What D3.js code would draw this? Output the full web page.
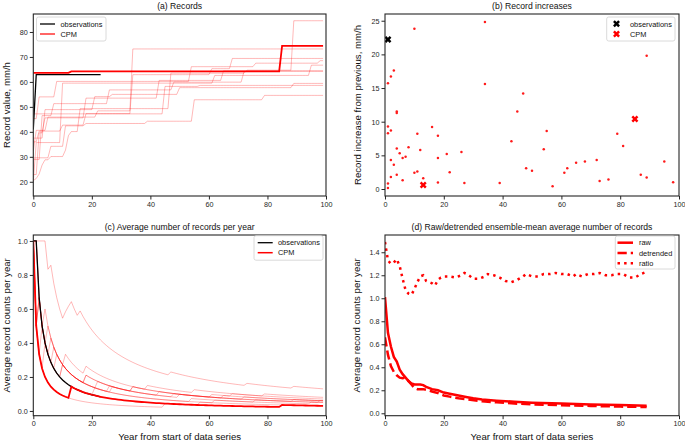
<!DOCTYPE html>
<html><head><meta charset="utf-8">
<script src="https://cdn.jsdelivr.net/npm/d3@7"></script>
<style>
body{margin:0;background:#fff;}
text{font-family:"Liberation Sans",Arial,Helvetica,sans-serif;}
</style></head>
<body><svg id="c" width="685" height="443"></svg>
<script>
// ---------- DATA ----------
// (a) CPM ensemble members: years in which a new record was set, and the record value (mm/h)
const memberRecordYears = [
  [0,1,2,3,4,6,11,12,13,16,47,73,89],
  [0,1,5,22,34],
  [0,2,10,18,34,61,68],
  [0,2,8,54,76,98],
  [0,1,10,62,95],
  [0,2,4,18,43,65],
  [0,3,7,26,48,72],
  [0,4,21,27,50,89],
  [0,45,57],
  [0,1,6,11,18,39,55,79]
];
const memberRecordValues = [
  [20.5,21.3,23.1,26.7,28.8,30.1,32.7,38.5,40.1,49.3,63.5,64.7,84.5],
  [32.3,40.6,45.9,48.4,73.2],
  [36.0,40.3,42.7,47.3,62.9,65.3,69.4],
  [45.3,54.0,60.2,66.1,67.5,68.5],
  [20.0,35.7,59.5,62.6,66.7],
  [22.9,39.6,45.6,53.5,60.6,64.5],
  [28.9,46.5,51.3,56.8,59.9,64.2],
  [37.5,48.9,54.1,55.0,57.7,59.4],
  [47.2,58.2,58.6],
  [29.5,29.6,34.2,42.4,43.35,44.25,52.85,54.6]
];
const memberLastYear = 99;
const cpmRecordYears = [0,13,85];
const cpmRecordValues = [63.6,64.2,74.4];
const obsRecordYears = [0,1];
const obsRecordValues = [41.0,62.9];
const obsLastYear = 23;

// (b) record increases
const incYears = [1,2,3,1,1,2,1,1,2,2,3,4,4,4,4,5,6,6,7,8,10,10,11,11,12,13,16,18,18,18,21,22,26,27,34,34,39,43,45,47,48,50,54,55,57,61,62,65,68,72,73,76,79,81,87,89,89,95,98];
const incValues = [15.7,16.7,17.6,9.3,8.3,8.7,0.8,0.15,4.3,1.8,3.6,11.3,11.5,6.0,2.1,5.3,4.6,1.3,4.8,6.2,23.8,2.4,8.2,2.6,5.8,1.6,9.2,7.9,4.6,0.95,5.2,2.5,5.5,0.9,24.8,15.6,0.9,7.1,11.5,14.2,3.1,2.7,5.9,8.6,0.4,2.4,3.1,3.9,4.1,4.3,1.2,1.4,8.2,6.4,2.1,19.8,1.7,4.1,1.0];
const cpmIncYears = [13,85];
const cpmIncValues = [0.6,10.4];
const obsIncYears = [1];
const obsIncValues = [22.2];

// (d) ensemble-mean average number of records
const rawYears = [0,1,2,3,4,5,6,7,8,9,10,12,13,14,16,18,20,22,25,28,30,33,38,44,50,60,70,80,89];
const rawValues = [1.01,0.70,0.58,0.49,0.45,0.38,0.34,0.31,0.28,0.26,0.25,0.25,0.245,0.23,0.21,0.20,0.18,0.17,0.155,0.14,0.13,0.12,0.11,0.10,0.092,0.084,0.077,0.071,0.066];
const detYears = [0,1,2,3,4,5,6,7,8,9,10,11,13,14,16,18,20,22,25,28,33,38,44,50,60,70,80,89];
const detValues = [0.66,0.51,0.41,0.36,0.33,0.31,0.305,0.31,0.28,0.25,0.22,0.21,0.21,0.205,0.19,0.175,0.155,0.145,0.13,0.12,0.105,0.095,0.085,0.078,0.07,0.064,0.058,0.055];
const ratioYears = [0,1,2,3,4,5,6,7,8,9,10,11,12,13,14,15,16,17,18,19,20,22,24,26,27,28,30,32,34,35,37,39,41,43,45,47,48,50,52,54,56,58,60,62,64,65,67,69,71,73,75,77,79,81,83,85,87,89];
const ratioValues = [1.49,1.33,1.30,1.31,1.34,1.28,1.17,1.07,1.04,1.03,1.08,1.14,1.19,1.20,1.15,1.14,1.13,1.11,1.16,1.18,1.19,1.19,1.18,1.20,1.22,1.21,1.17,1.17,1.19,1.21,1.20,1.18,1.15,1.14,1.16,1.19,1.21,1.19,1.19,1.21,1.21,1.22,1.21,1.21,1.19,1.21,1.19,1.21,1.21,1.22,1.20,1.20,1.21,1.21,1.18,1.18,1.21,1.23];

const xTicks = [0,20,40,60,80,100];
const yTicksA = [20,30,40,50,60,70,80];
const yTicksB = [0,5,10,15,20,25];
const yTicksC = [0,0.2,0.4,0.6,0.8,1.0];
const yTicksD = [0,0.2,0.4,0.6,0.8,1.0,1.2,1.4];

// ---------- helpers ----------
const svg = d3.select("#c");
const INK = "#262626";
const THIN = "rgba(255,0,0,0.28)";

function runningMax(years, values, last){
  const out=[]; let k=0;
  for(let t=0;t<=last;t++){ while(k+1<years.length && years[k+1]<=t) k++; out.push([t, values[k]]); }
  return out;
}
function recordRate(years, last){
  const out=[]; let k=0;
  for(let t=0;t<=last;t++){ while(k<years.length && years[k]<=t) k++; out.push([t, k/(t+1)]); }
  return out;
}

function panel(box, yDomain, yTicks, yFmt, title, ylabel, ylabelX, xlabel){
  const x = d3.scaleLinear().domain([0,100]).range([box.x0, box.x1]);
  const y = d3.scaleLinear().domain(yDomain).range([box.y1, box.y0]);
  const g = svg.append("g");
  const clipId = "clip"+Math.round(box.x0)+"_"+Math.round(box.y0);
  svg.append("clipPath").attr("id",clipId).append("rect")
    .attr("x",box.x0).attr("y",box.y0).attr("width",box.x1-box.x0).attr("height",box.y1-box.y0);
  const plot = g.append("g").attr("clip-path","url(#"+clipId+")");
  const ax = g.append("g");
  ax.append("g").attr("transform",`translate(0,${box.y1})`)
    .call(d3.axisBottom(x).tickValues(xTicks).tickFormat(d3.format("d")).tickSize(3.5).tickSizeOuter(0).tickPadding(2))
    .call(s=>{s.select(".domain").remove(); s.selectAll("line").attr("stroke",INK).attr("stroke-width",1);
      s.selectAll("text").attr("fill",INK).attr("font-size",7.2).style("font-family","Liberation Sans, Arial");});
  ax.append("g").attr("transform",`translate(${box.x0},0)`)
    .call(d3.axisLeft(y).tickValues(yTicks).tickFormat(d3.format(yFmt)).tickSize(3.5).tickSizeOuter(0).tickPadding(2))
    .call(s=>{s.select(".domain").remove(); s.selectAll("line").attr("stroke",INK).attr("stroke-width",1);
      s.selectAll("text").attr("fill",INK).attr("font-size",7.2).style("font-family","Liberation Sans, Arial");});
  g.append("rect").attr("x",box.x0).attr("y",box.y0).attr("width",box.x1-box.x0).attr("height",box.y1-box.y0)
    .attr("fill","none").attr("stroke",INK).attr("stroke-width",1.1);
  g.append("text").attr("x",(box.x0+box.x1)/2).attr("y",box.y0-5).attr("text-anchor","middle")
    .attr("font-size",8.6).attr("fill","#111").text(title);
  g.append("text").attr("transform",`translate(${ylabelX},${(box.y0+box.y1)/2}) rotate(-90)`)
    .attr("text-anchor","middle").attr("font-size",9.6).attr("fill","#111").text(ylabel);
  if(xlabel) g.append("text").attr("x",(box.x0+box.x1)/2).attr("y",440).attr("text-anchor","middle")
    .attr("font-size",9.6).attr("fill","#111").text(xlabel);
  return {x,y,plot,g};
}
function legendBox(g, x0, y0, w, h){
  g.append("rect").attr("x",x0).attr("y",y0).attr("width",w).attr("height",h).attr("rx",2)
    .attr("fill","rgba(255,255,255,0.85)").attr("stroke","#d0d0d0").attr("stroke-width",0.8);
}
function legText(g,x,y,t){ g.append("text").attr("x",x).attr("y",y+2.6).attr("font-size",7.4).attr("fill","#111").text(t); }

const boxA={x0:33.3,x1:326,y0:14,y1:196};
const boxB={x0:385,x1:679,y0:14,y1:196};
const boxC={x0:33.3,x1:326,y0:235,y1:415.7};
const boxD={x0:385,x1:679,y0:235,y1:415.7};

// ---------- (a) ----------
{
  const p = panel(boxA,[14.3,87.2],yTicksA,"d","(a) Records","Record value, mm/h",10,null);
  const line = d3.line().x(d=>p.x(d[0])).y(d=>p.y(d[1]));
  memberRecordYears.forEach((ys,i)=>{
    p.plot.append("path").datum(runningMax(ys, memberRecordValues[i], memberLastYear))
      .attr("d",line).attr("fill","none").attr("stroke",THIN).attr("stroke-width",1);
  });
  p.plot.append("path").datum(runningMax(obsRecordYears,obsRecordValues,obsLastYear))
    .attr("d",line).attr("fill","none").attr("stroke","#000").attr("stroke-width",1.3);
  p.plot.append("path").datum(runningMax(cpmRecordYears,cpmRecordValues,memberLastYear))
    .attr("d",line).attr("fill","none").attr("stroke","#ff0000").attr("stroke-width",1.8);
  legendBox(p.g,36.5,17,69.5,24);
  p.g.append("line").attr("x1",40).attr("x2",55).attr("y1",24).attr("y2",24).attr("stroke","#000").attr("stroke-width",1.3);
  p.g.append("line").attr("x1",40).attr("x2",55).attr("y1",34).attr("y2",34).attr("stroke","rgba(255,0,0,0.6)").attr("stroke-width",2);
  legText(p.g,60.5,24,"observations"); legText(p.g,60.5,34,"CPM");
}

// ---------- (b) ----------
{
  const p = panel(boxB,[-1.04,26.0],yTicksB,"d","(b) Record increases","Record increase from previous, mm/h",361,null);
  p.plot.selectAll("circle.inc").data(d3.range(incYears.length)).join("circle")
    .attr("cx",i=>p.x(incYears[i])).attr("cy",i=>p.y(incValues[i])).attr("r",1.25).attr("fill","#ff1a1a");
  const X = d3.symbol().type(d3.symbolCross).size(30);
  p.plot.selectAll("path.cpm").data(d3.range(cpmIncYears.length)).join("path")
    .attr("d",X).attr("transform",i=>`translate(${p.x(cpmIncYears[i])},${p.y(cpmIncValues[i])}) rotate(45)`).attr("fill","#ff0000");
  p.plot.selectAll("path.obs").data(d3.range(obsIncYears.length)).join("path")
    .attr("d",X).attr("transform",i=>`translate(${p.x(obsIncYears[i])},${p.y(obsIncValues[i])}) rotate(45)`).attr("fill","#000");
  legendBox(p.g,606.7,17,68.3,24);
  p.g.append("path").attr("d",X).attr("transform","translate(616.5,23.8) rotate(45)").attr("fill","#000");
  p.g.append("path").attr("d",X).attr("transform","translate(616.5,34) rotate(45)").attr("fill","#ff0000");
  legText(p.g,630,24,"observations"); legText(p.g,630,34,"CPM");
}

// ---------- (c) ----------
{
  const p = panel(boxC,[-0.028,1.035],yTicksC,".1f","(c) Average number of records per year","Average record counts per year",10,"Year from start of data series");
  const line = d3.line().x(d=>p.x(d[0])).y(d=>p.y(d[1]));
  memberRecordYears.forEach(ys=>{
    p.plot.append("path").datum(recordRate(ys,memberLastYear))
      .attr("d",line).attr("fill","none").attr("stroke",THIN).attr("stroke-width",1);
  });
  p.plot.append("path").datum(recordRate(obsRecordYears,obsLastYear))
    .attr("d",line).attr("fill","none").attr("stroke","#000").attr("stroke-width",1.3);
  p.plot.append("path").datum(recordRate(cpmRecordYears,memberLastYear))
    .attr("d",line).attr("fill","none").attr("stroke","#ff0000").attr("stroke-width",1.8);
  legendBox(p.g,254,235.7,69,24.5);
  p.g.append("line").attr("x1",257.7).attr("x2",272.7).attr("y1",242.7).attr("y2",242.7).attr("stroke","#000").attr("stroke-width",1.3);
  p.g.append("line").attr("x1",257.7).attr("x2",272.7).attr("y1",252.7).attr("y2",252.7).attr("stroke","#ff0000").attr("stroke-width",1.5);
  legText(p.g,278,242.7,"observations"); legText(p.g,278,252.7,"CPM");
}

// ---------- (d) ----------
{
  const p = panel(boxD,[-0.021,1.55],yTicksD,".1f","(d) Raw/detrended ensemble-mean average number of records","Average record counts per year",360,"Year from start of data series");
  const line = d3.line().x(d=>p.x(d[0])).y(d=>p.y(d[1]));
  const zip=(a,b)=>a.map((v,i)=>[v,b[i]]);
  p.plot.append("path").datum(zip(rawYears,rawValues)).attr("d",line).attr("fill","none")
    .attr("stroke","#ff0000").attr("stroke-width",2.5);
  p.plot.append("path").datum(zip(detYears,detValues)).attr("d",line).attr("fill","none")
    .attr("stroke","#ff0000").attr("stroke-width",2.5).attr("stroke-dasharray","9.25,4");
  p.plot.append("path").datum(zip(ratioYears,ratioValues)).attr("d",line).attr("fill","none")
    .attr("stroke","#ff0000").attr("stroke-width",2.5).attr("stroke-dasharray","2.5,4.1");
  legendBox(p.g,615.3,236,59.7,33);
  p.g.append("line").attr("x1",617.5).attr("x2",633).attr("y1",242.7).attr("y2",242.7).attr("stroke","#ff0000").attr("stroke-width",2.5);
  p.g.append("line").attr("x1",617.5).attr("x2",633).attr("y1",252.9).attr("y2",252.9).attr("stroke","#ff0000").attr("stroke-width",2.5).attr("stroke-dasharray","9.25,4");
  p.g.append("line").attr("x1",617.5).attr("x2",633).attr("y1",263.3).attr("y2",263.3).attr("stroke","#ff0000").attr("stroke-width",2.5).attr("stroke-dasharray","2.5,4.1");
  legText(p.g,639,242.7,"raw"); legText(p.g,639,252.9,"detrended"); legText(p.g,639,263.3,"ratio");
}
</script>
</body></html>
